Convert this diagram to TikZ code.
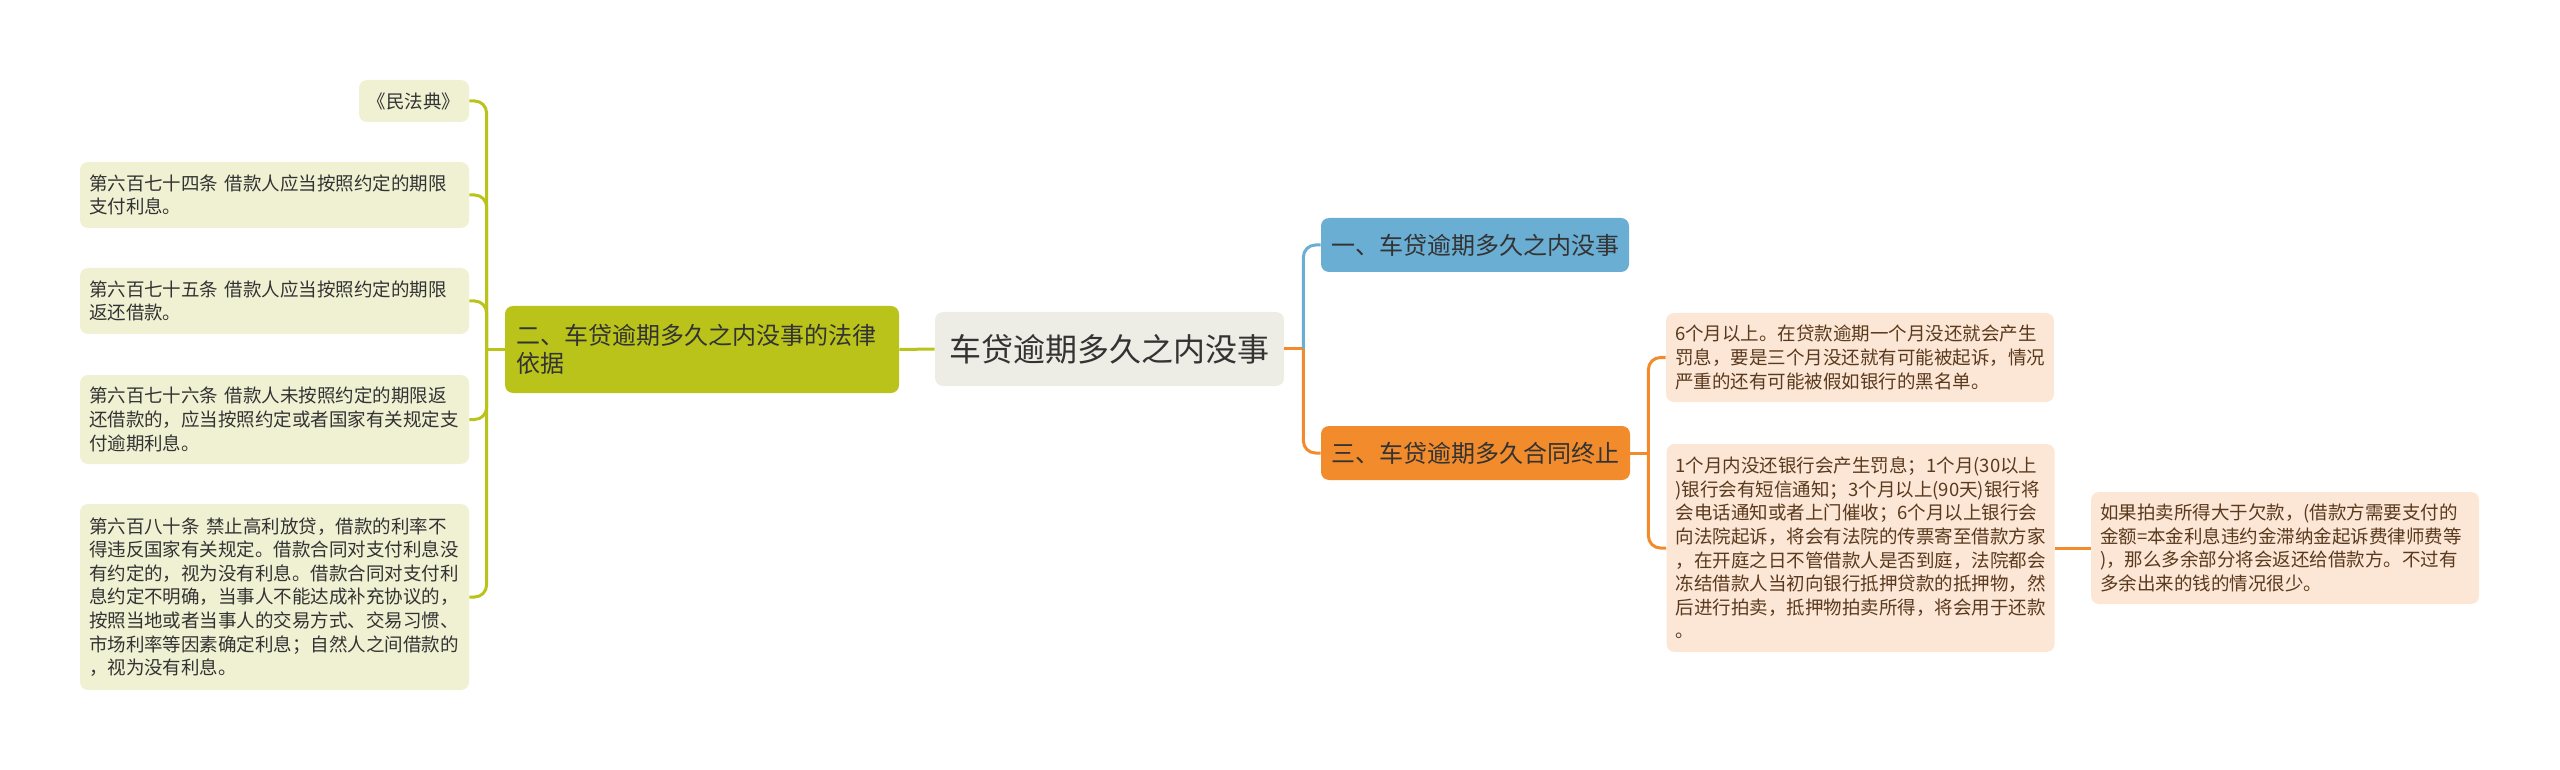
\documentclass[tikz,border=0pt]{standalone}
\usepackage{fontspec}
\setmainfont{Noto Sans CJK SC}
\definecolor{olive}{HTML}{BAC31A}
\definecolor{greenleaf}{HTML}{F0F1D3}
\definecolor{rootfill}{HTML}{EEEDE5}
\definecolor{bluec}{HTML}{6AAED4}
\definecolor{orangec}{HTML}{F28B2C}
\definecolor{orangeleaf}{HTML}{FCE6D5}
\definecolor{txt}{HTML}{333333}
\definecolor{browntxt}{HTML}{5A3A1E}
\tikzset{
  basebox/.style={rectangle, rounded corners=4pt, draw=none, inner ysep=0pt, anchor=center},
  leaffont/.style={font=\fontsize{9.25pt}{11.8pt}\selectfont},
  gleaf/.style={basebox, leaffont, fill=greenleaf, text=txt, align=left, inner xsep=4.5pt, text width=185.5pt, minimum width=194.5pt},
  oleaf/.style={basebox, leaffont, fill=orangeleaf, text=browntxt, align=left, inner xsep=4.5pt, text width=185pt, minimum width=194pt},
  lvlfont/.style={font=\fontsize{12pt}{14pt}\selectfont},
  oline/.style={draw=olive, line width=1.5pt},
  bline/.style={draw=bluec, line width=1.5pt},
  rline/.style={draw=orangec, line width=1.5pt}
}
\begin{document}
\begin{tikzpicture}[x=0.5pt,y=-0.5pt]
\useasboundingbox (0,0) rectangle (2560,770);
% root
\node[basebox, fill=rootfill, text=txt, font=\fontsize{16pt}{19pt}\selectfont, minimum width=174.5pt, minimum height=37pt] (root) at (1109.5,349) {车贷逾期多久之内没事};
% left branch
\node[basebox, lvlfont, fill=olive, text=txt, align=left, inner xsep=5.5pt, text width=186pt, minimum width=197pt, minimum height=43.5pt] (n2) at (702,349.5) {二、车贷逾期多久之内没事的法律\\依据};
\node[basebox, leaffont, fill=greenleaf, text=txt, minimum width=55pt, minimum height=21pt] (m) at (414,101) {《民法典》};
\node[gleaf, minimum height=33pt] (a674) at (274.5,195) {第六百七十四条 借款人应当按照约定的期限\\支付利息。};
\node[gleaf, minimum height=33pt] (a675) at (274.5,301) {第六百七十五条 借款人应当按照约定的期限\\返还借款。};
\node[gleaf, minimum height=44.5pt] (a676) at (274.5,419.5) {第六百七十六条 借款人未按照约定的期限返\\还借款的，应当按照约定或者国家有关规定支\\付逾期利息。};
\node[gleaf, minimum height=93pt] (a680) at (274.5,597) {第六百八十条 禁止高利放贷，借款的利率不\\得违反国家有关规定。借款合同对支付利息没\\有约定的，视为没有利息。借款合同对支付利\\息约定不明确，当事人不能达成补充协议的，\\按照当地或者当事人的交易方式、交易习惯、\\市场利率等因素确定利息；自然人之间借款的\\，视为没有利息。};
% right branch
\node[basebox, lvlfont, fill=bluec, text=txt, align=left, inner xsep=5pt, text width=144pt, minimum width=154pt, minimum height=27pt] (n1) at (1475,245) {一、车贷逾期多久之内没事};
\node[basebox, lvlfont, fill=orangec, text=txt, align=left, inner xsep=5pt, text width=144.5pt, minimum width=154.5pt, minimum height=27pt] (n3) at (1475.5,453) {三、车贷逾期多久合同终止};
\node[oleaf, minimum height=44.5pt] (r6) at (1860,357.5) {6个月以上。在贷款逾期一个月没还就会产生\\罚息，要是三个月没还就有可能被起诉，情况\\严重的还有可能被假如银行的黑名单。};
\node[oleaf, minimum height=104pt] (r1) at (1860.5,548) {1个月内没还银行会产生罚息；1个月(30以上\\)银行会有短信通知；3个月以上(90天)银行将\\会电话通知或者上门催收；6个月以上银行会\\向法院起诉，将会有法院的传票寄至借款方家\\，在开庭之日不管借款人是否到庭，法院都会\\冻结借款人当初向银行抵押贷款的抵押物，然\\后进行拍卖，抵押物拍卖所得，将会用于还款\\。};
\node[oleaf, minimum height=56pt] (rr) at (2285,548) {如果拍卖所得大于欠款，(借款方需要支付的\\金额=本金利息违约金滞纳金起诉费律师费等\\)，那么多余部分将会返还给借款方。不过有\\多余出来的钱的情况很少。};
% spine coordinates
\coordinate (ls) at ([xshift=-9pt]n2.west);
\coordinate (rs) at ([xshift=9.5pt]root.east);
\coordinate (os) at ([xshift=9pt]n3.east);
% connectors
\draw[oline] (root.west) -- (n2.east);
\draw[oline] (n2.west) -- (ls);
\foreach \c in {m,a674,a675,a676,a680}{
  \draw[oline, rounded corners=6pt] (ls) |- (\c.east);
}
\draw[rline] (root.east) -- (rs);
\draw[bline, rounded corners=6pt] (rs) |- (n1.west);
\draw[rline, rounded corners=6pt] (rs) |- (n3.west);
\draw[rline] (n3.east) -- (os);
\draw[rline, rounded corners=6pt] (os) |- (r6.west);
\draw[rline, rounded corners=6pt] (os) |- (r1.west);
\draw[rline] (r1.east) -- (rr.west);
\end{tikzpicture}
\end{document}
